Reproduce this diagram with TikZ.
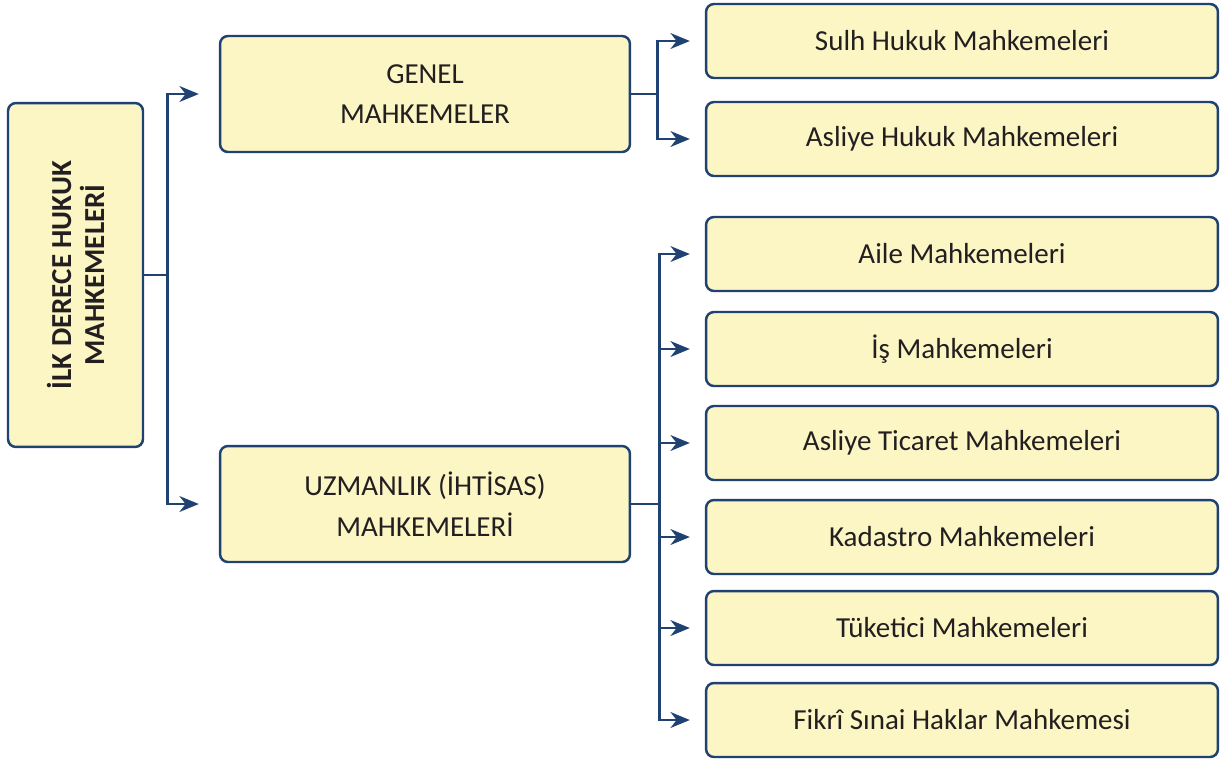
\documentclass[tikz,border=0pt]{standalone}
\usepackage{fontspec}
\setmainfont{Carlito}
\usetikzlibrary{arrows.meta}

\definecolor{boxfill}{RGB}{252,246,196}
\definecolor{boxline}{RGB}{31,66,114}
\definecolor{boxtext}{RGB}{35,31,32}

\begin{document}
\begin{tikzpicture}[x=0.02cm,y=-0.02cm,
    court/.style={draw=boxline, line width=1.4pt, fill=boxfill, rounded corners=4.5pt,
        text=boxtext, font=\fontsize{16.5}{23}\selectfont, align=center, inner sep=0pt},
    branch/.style={court, minimum width=8.2cm, minimum height=2.32cm},
    leaf/.style={court, minimum width=10.24cm, minimum height=1.48cm},
    link/.style={draw=boxline, line width=1.5pt, -{Stealth[length=11pt,width=9pt,inset=3.5pt]}}]

    \useasboundingbox (0,0) rectangle (1222,758);

    % Root box (rotated, so its south side faces right)
    \node[court, rotate=90, minimum width=6.88cm, minimum height=2.7cm,
          font=\bfseries\fontsize{16.5}{18.7}\selectfont] (root) at (75.5,275)
        {İLK DERECE HUKUK\\MAHKEMELERİ};

    % Middle level
    \node[branch] (genel) at (425,94) {GENEL\\MAHKEMELER};
    \node[branch] (uzman) at (425,504) {UZMANLIK (İHTİSAS)\\MAHKEMELERİ};

    % Right column
    \node[leaf] (sulh)     at (962,41)  {Sulh Hukuk Mahkemeleri};
    \node[leaf] (asliyeh)  at (962,139) {Asliye Hukuk Mahkemeleri};
    \node[leaf] (aile)     at (962,254) {Aile Mahkemeleri};
    \node[leaf] (is)       at (962,349) {İş Mahkemeleri};
    \node[leaf] (asliyet)  at (962,443) {Asliye Ticaret Mahkemeleri};
    \node[leaf] (kadastro) at (962,537) {Kadastro Mahkemeleri};
    \node[leaf] (tuketici) at (962,628) {Tüketici Mahkemeleri};
    \node[leaf] (fikri)    at (962,720) {Fikrî Sınai Haklar Mahkemesi};

    % Connectors from the root
    \draw[link, shorten >=0.4cm] (root.south) -- ++(23,0) |- (genel.west);
    \draw[link, shorten >=0.4cm] (root.south) -- ++(23,0) |- (uzman.west);

    % Connectors from GENEL
    \foreach \t in {sulh, asliyeh}
        \draw[link, shorten >=0.3cm] (genel.east) -- ++(26,0) |- (\t.west);

    % Connectors from UZMANLIK
    \foreach \t in {aile, is, asliyet, kadastro, tuketici, fikri}
        \draw[link, shorten >=0.3cm] (uzman.east) -- ++(28,0) |- (\t.west);

\end{tikzpicture}
\end{document}
